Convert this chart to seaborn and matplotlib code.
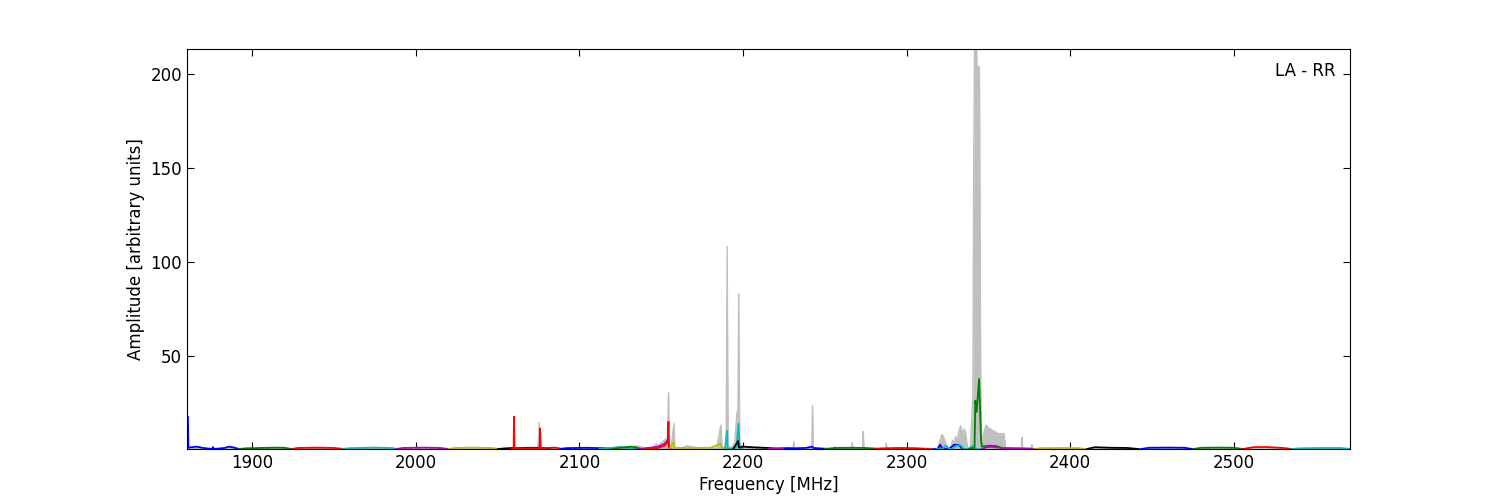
import numpy as np
import pandas as pd
import matplotlib
matplotlib.use("Agg")
import matplotlib.pyplot as plt
import seaborn as sns

# ---------------- data ----------------
gray_freq = [1860, 2074.5, 2075.5, 2076, 2076.5,
             2120, 2125, 2130, 2135, 2140,
             2145, 2147, 2148, 2150, 2152, 2153.8, 2154.5, 2155.0, 2156, 2157.8, 2158.3,
             2163, 2166, 2169, 2172, 2180, 2184, 2186.5, 2187.1, 2188, 2189.7, 2190.3, 2190.9,
             2193, 2195, 2196.3, 2196.8, 2197.4, 2198, 2200, 2210,
             2230.6, 2231, 2231.4, 2242.0, 2242.5, 2243.0, 2255.6, 2256, 2256.4,
             2266.4, 2266.8, 2267.2, 2273.1, 2273.5, 2273.9, 2287.2, 2287.6, 2288.0,
             2319, 2320.5, 2321.5, 2322.5, 2323.5, 2325, 2327, 2328, 2329, 2330, 2331, 2332,
             2333, 2334, 2335, 2336, 2337.2, 2339, 2340.5, 2341, 2341.5, 2342.8, 2343.2,
             2343.6, 2344.5, 2345.3, 2346, 2347.5, 2348.5, 2350, 2352, 2354, 2356, 2359.5,
             2360.5, 2365, 2370.1, 2370.5, 2370.9, 2376.2, 2376.6, 2377.0, 2380, 2570]
gray_amp = [0.5, 0.5, 14.4, 0.6, 0.5,
            0.8, 1.5, 1.0, 2.0, 0.8,
            1.0, 3.0, 2.0, 3.5, 5.0, 6.0, 30.3, 2.0, 1.0, 13.9, 1.0,
            1.0, 2.0, 1.5, 0.8, 0.8, 1.5, 13.0, 2.0, 1.0, 1.0, 108.2, 1.5,
            1.0, 4.0, 20.0, 8.0, 83.0, 3.0, 1.5, 1.0,
            0.5, 4.0, 0.5, 0.5, 23.3, 0.5, 0.5, 1.5, 0.5,
            0.5, 3.7, 0.5, 0.5, 9.6, 0.5, 0.5, 3.3, 0.5,
            0.5, 5.0, 8.0, 7.0, 4.0, 0.8, 0.8, 5.0, 3.5, 7.0, 5.5, 10.0,
            12.6, 8.0, 11.0, 9.0, 1.0, 1.0, 30.0, 150.0, 213.5, 213.5, 195.0,
            204.0, 204.0, 30.0, 3.0, 10.0, 13.0, 11.5, 10.5, 9.5, 8.4, 8.4,
            1.0, 0.8, 0.8, 6.4, 0.8, 0.8, 2.5, 0.5, 0.3, 0.3]

band_colors = ['b', 'g', 'r', 'c', 'm', 'y', 'k', 'r', 'b', 'c', 'g', 'm', 'r', 'y', 'c',
               'k', 'm', 'b', 'g', 'r', 'b', 'c', 'g', 'm', 'y', 'k', 'b', 'g', 'r', 'c']

band_freqs = [
    [1860.7, 1861.0, 1863, 1866, 1870, 1874, 1875.6, 1876, 1876.4, 1880, 1883, 1886, 1889, 1892],
    [1892, 1896, 1905, 1915, 1920, 1924],
    [1924, 1928, 1940, 1950, 1956],
    [1955, 1960, 1975, 1985, 1989],
    [1988, 1992, 2005, 2015, 2020],
    [2020, 2024, 2035, 2046, 2051],
    [2050, 2055, 2060, 2070, 2078, 2082],
    [2058, 2059.8, 2060, 2060.3, 2066, 2075.6, 2076, 2076.4, 2085, 2090],
    [2088, 2092, 2105, 2115, 2120],
    [2112, 2118, 2125, 2132, 2136],
    [2120, 2126, 2132, 2135, 2138],
    [2136, 2142, 2148, 2152, 2154, 2155],
    [2140, 2148, 2152, 2154, 2154.4, 2154.8, 2156],
    [2155, 2157.5, 2158.1, 2170, 2180, 2186.3, 2187, 2190],
    [2189, 2190.2, 2190.6, 2196, 2197.3, 2197.8, 2200],
    [2194, 2197, 2197.5, 2200, 2205, 2215, 2222],
    [2215, 2220, 2228, 2232],
    [2225, 2230, 2238, 2242.2, 2243, 2248, 2254],
    [2250, 2256, 2265, 2275, 2285],
    [2280, 2285, 2295, 2305, 2315],
    [2316, 2319, 2320.5, 2322, 2326, 2329, 2332, 2334, 2337],
    [2318, 2322, 2324, 2326, 2328, 2330, 2333, 2335, 2338, 2340, 2342, 2345],
    [2338, 2341.5, 2342, 2342.8, 2344.3, 2345.5, 2346, 2350, 2355, 2360],
    [2346, 2349, 2352, 2358, 2370, 2376, 2380],
    [2378, 2382, 2395, 2405, 2410],
    [2410, 2415, 2425, 2435, 2442],
    [2443, 2448, 2460, 2470, 2475],
    [2475, 2480, 2490, 2500, 2506],
    [2505, 2512, 2520, 2530, 2536],
    [2535, 2540, 2555, 2565, 2571],
]
band_amps = [
    [17.5, 1.0, 1.2, 1.5, 0.8, 0.4, 0.3, 1.3, 0.3, 0.5, 0.8, 1.5, 1.0, 0.2],
    [0.2, 0.6, 0.8, 1.0, 0.9, 0.2],
    [0.2, 0.8, 1.0, 0.8, 0.2],
    [0.2, 0.7, 1.0, 0.8, 0.2],
    [0.2, 0.8, 1.0, 0.8, 0.2],
    [0.2, 0.8, 1.0, 0.8, 0.2],
    [0.2, 0.6, 0.8, 0.9, 0.8, 0.2],
    [0.2, 0.5, 17.5, 0.8, 0.6, 0.6, 11.2, 0.6, 1.0, 0.2],
    [0.2, 0.7, 0.9, 0.6, 0.2],
    [0.2, 0.8, 1.2, 0.6, 0.2],
    [0.2, 1.0, 1.5, 1.0, 0.2],
    [0.2, 0.8, 1.5, 3.0, 5.0, 0.3],
    [0.2, 0.8, 2.0, 4.0, 14.8, 1.0, 0.2],
    [0.2, 4.0, 0.8, 0.8, 0.9, 3.0, 0.8, 0.2],
    [0.2, 10.0, 0.3, 1.0, 13.7, 1.0, 0.2],
    [0.2, 4.5, 1.0, 1.5, 1.2, 0.8, 0.2],
    [0.2, 0.6, 0.9, 0.2],
    [0.2, 0.6, 0.8, 1.5, 0.8, 0.5, 0.2],
    [0.2, 0.8, 0.9, 0.8, 0.2],
    [0.2, 0.6, 0.8, 0.7, 0.2],
    [0.2, 0.3, 2.5, 0.3, 0.3, 2.5, 2.3, 0.3, 0.2],
    [0.2, 0.3, 2.0, 0.3, 0.3, 1.8, 2.2, 0.3, 0.3, 1.8, 0.3, 0.2],
    [0.2, 1.0, 26.0, 20.0, 37.6, 5.0, 1.5, 2.0, 1.8, 0.2],
    [0.2, 1.3, 1.4, 0.8, 0.6, 0.4, 0.2],
    [0.2, 0.7, 0.8, 0.7, 0.2],
    [0.2, 1.2, 0.9, 0.8, 0.2],
    [0.2, 0.9, 1.0, 0.9, 0.2],
    [0.2, 0.9, 1.0, 0.9, 0.2],
    [0.2, 1.2, 1.3, 0.8, 0.2],
    [0.2, 0.6, 0.8, 0.8, 0.3],
]

label_text = "LA - RR"
x_label = "Frequency [MHz]"
y_label = "Amplitude [arbitrary units]"
x_ticks = [1900, 2000, 2100, 2200, 2300, 2400, 2500]
y_ticks = [50, 100, 150, 200]

# ---------------- style ----------------
sns.set_style("ticks", rc={
    "xtick.direction": "in", "ytick.direction": "in",
    "xtick.top": True, "ytick.right": True,
    "axes.edgecolor": "black", "axes.linewidth": 1.0,
    "text.color": "black", "axes.labelcolor": "black",
    "xtick.color": "black", "ytick.color": "black",
})
plt.rcParams["font.family"] = ["DejaVu Sans"]
plt.rcParams["font.size"] = 12

fig = plt.figure(figsize=(15, 5), dpi=100)
ax = fig.add_axes([0.1245, 0.102, 0.7755, 0.8])

gray_df = pd.DataFrame({"freq": gray_freq, "amp": gray_amp})
ax.fill_between(gray_df["freq"], 0, gray_df["amp"], color="0.75", lw=0, zorder=1)
sns.lineplot(data=gray_df, x="freq", y="amp", color="0.75", lw=1.0,
             estimator=None, sort=False, ax=ax, zorder=1)

rows = []
for i, (fr, am) in enumerate(zip(band_freqs, band_amps)):
    for f, a in zip(fr, am):
        rows.append({"freq": f, "amp": a, "band": i})
bands_df = pd.DataFrame(rows)
palette = {i: c for i, c in enumerate(band_colors)}
sns.lineplot(data=bands_df, x="freq", y="amp", hue="band", palette=palette,
             estimator=None, sort=False, lw=1.3, legend=False, ax=ax, zorder=2)

ax.set_xlim(1860, 2571)
ax.set_ylim(0.25, 213.4)
ax.set_xticks(x_ticks)
ax.set_yticks(y_ticks)
ax.tick_params(which="both", direction="in", top=True, right=True, length=5,
               width=0.8, labelsize=12, colors="black")
ax.set_xlabel(x_label, fontsize=12, labelpad=3, color="black")
ax.set_ylabel(y_label, fontsize=12, color="black")
ax.text(0.988, 0.968, label_text, transform=ax.transAxes, ha="right", va="top",
        fontsize=12, color="black")
for s in ax.spines.values():
    s.set_visible(True)
    s.set_color("black")

fig.savefig("out.png", dpi=100, facecolor="white")
